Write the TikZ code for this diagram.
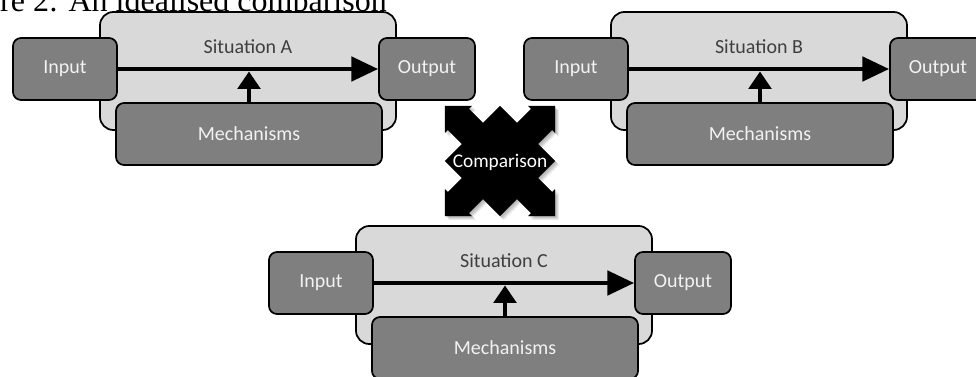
\documentclass[tikz,border=0pt]{standalone}
\usepackage{fontspec}
\setmainfont{Liberation Serif}
\newfontfamily\diagfont{Carlito}
\usetikzlibrary{arrows.meta}

\definecolor{panelfill}{HTML}{D9D9D9}
\definecolor{blockfill}{HTML}{7F7F7F}
\definecolor{blocktext}{HTML}{F2F2F2}
\definecolor{paneltext}{HTML}{3F3F3F}

\tikzset{
  panel/.style={draw=black, line width=1.3pt, fill=panelfill, rounded corners=10pt,
    minimum width=222pt, minimum height=88.5pt, inner sep=0pt},
  block/.style={draw=black, line width=1.3pt, fill=blockfill, rounded corners=6pt,
    minimum height=46.5pt, inner sep=0pt, text=blocktext,
    font=\diagfont\fontsize{15}{18}\selectfont},
  inbox/.style={block, minimum width=78pt},
  outbox/.style={block, minimum width=72pt},
  mechbox/.style={block, minimum width=199.5pt},
  paneltitle/.style={text=paneltext, font=\diagfont\fontsize{15}{18}\selectfont},
  flow/.style={line width=3.4pt, -{Triangle[length=20pt,width=18pt]}},
  effect/.style={line width=2.4pt, -{Triangle[length=13pt,width=17pt]}},
  % four arrows leaving a central square, drawn in its own frame
  quadarrow/.pic={
    \path[pic actions]
      (38.9,-15) -- (58.7,-15) -- (58.7,-19.1) -- (77.8,0) -- (58.7,19.1) -- (58.7,15) -- (38.9,15)
      -- (38.9,38.9)
      -- (15,38.9) -- (15,58.7) -- (19.1,58.7) -- (0,77.8) -- (-19.1,58.7) -- (-15,58.7) -- (-15,38.9)
      -- (-38.9,38.9)
      -- (-38.9,15) -- (-58.7,15) -- (-58.7,19.1) -- (-77.8,0) -- (-58.7,-19.1) -- (-58.7,-15) -- (-38.9,-15)
      -- (-38.9,-38.9)
      -- (-15,-38.9) -- (-15,-58.7) -- (-19.1,-58.7) -- (0,-77.8) -- (19.1,-58.7) -- (15,-58.7) -- (15,-38.9)
      -- (38.9,-38.9) -- cycle;
  }
}

\begin{document}
\begin{tikzpicture}[x=0.75pt, y=-0.75pt]
  \useasboundingbox (0,0) rectangle (976,376);

  % caption, running off the top edge
  \node[anchor=base east, inner sep=0pt, font=\fontsize{24}{28}\selectfont] (caption)
    at (387,11.5) {Figure 2: An idealised comparison};

  % the three situations
  \foreach \s/\ox/\oy in {A/100/12, B/611/12, C/356/226} {
    \begin{scope}[shift={(\ox,\oy)}]
      \node[panel] (panel\s) at (148,59) {};
      \node[paneltitle] (title\s) at (148,35) {Situation \s};
      \node[inbox] (in\s) at (-35,57) {Input};
      \node[outbox] (out\s) at (327,57) {Output};
      \node[mechbox] (mech\s) at (149,122) {Mechanisms};
      \draw[flow] (in\s.east) -- (out\s.west);
      \draw[effect, shorten >=1.9pt] (mech\s.north) -- (mech\s.north |- in\s.east);
    \end{scope}
  }

  % comparison symbol with a soft shadow
  \foreach \d in {1,...,5} {
    \pic[fill=black, fill opacity=0.07, rotate=45] at ({500+\d*0.8},{161+\d*0.8}) {quadarrow};
  }
  \pic[fill=black, rotate=45] at (500,161) {quadarrow};
  \node[text=white, font=\diagfont\fontsize{14.5}{17}\selectfont] (compare) at (500,162) {Comparison};
\end{tikzpicture}
\end{document}
